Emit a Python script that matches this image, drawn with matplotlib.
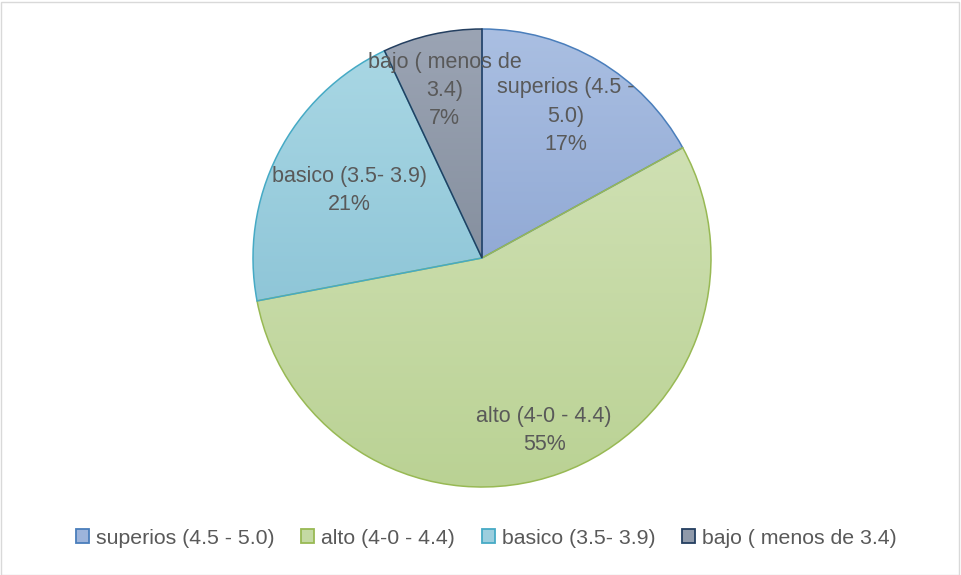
import matplotlib
matplotlib.use("Agg")
import matplotlib.pyplot as plt
from matplotlib.patches import Rectangle
from matplotlib.colors import to_rgb
import numpy as np

plt.rcParams['font.family'] = ['Liberation Sans', 'DejaVu Sans']

# data
categories = ["superios (4.5 - 5.0)", "alto (4-0 - 4.4)", "basico (3.5- 3.9)", "bajo ( menos de 3.4)"]
label_lines = ["superios (4.5 -\n5.0)", "alto (4-0 - 4.4)", "basico (3.5- 3.9)", "bajo ( menos de\n3.4)"]
values = [17, 55, 21, 7]

# style
top_colors = ["#AABFE2", "#CFE0B3", "#A9D7E4", "#9BA4B4"]
bottom_colors = ["#92AAD5", "#BAD294", "#8FC6D8", "#86909F"]
mid_colors = ["#9DB4DB", "#C4D9A3", "#9CCEDE", "#909AAA"]
edge_colors = ["#4A7EBB", "#98B954", "#46AAC5", "#243F60"]
label_dist = [0.72, 0.80, 0.65, 0.75]
text_color = "#595959"

W, H = 961, 575
fig = plt.figure(figsize=(W / 100, H / 100), dpi=100)
fig.patches.append(Rectangle((0.5 / W, 0.5 / H), 1 - 2.5 / W, 1 - 2.5 / H,
                             transform=fig.transFigure, fill=False,
                             edgecolor="#D9D9D9", linewidth=1))

cx, cy, r = 482, 258, 229
m = 1.02
ax = fig.add_axes([(cx - r * m) / W, (H - cy - r * m) / H, 2 * r * m / W, 2 * r * m / H])

wedges, _ = ax.pie(values, startangle=90, counterclock=False,
                   wedgeprops=dict(linewidth=1.1, facecolor='none'))

for i, w in enumerate(wedges):
    w.set_edgecolor(edge_colors[i])
    w.set_zorder(3)
    # vertical gradient fill clipped to the wedge
    ext = w.get_path().get_extents(w.get_patch_transform())
    c1 = np.array(to_rgb(top_colors[i]))
    c2 = np.array(to_rgb(bottom_colors[i]))
    t = np.linspace(0, 1, 256)[:, None]
    grad = (c1 * (1 - t) + c2 * t)[:, None, :]
    im = ax.imshow(grad, extent=[ext.x0, ext.x1, ext.y0, ext.y1], origin='upper',
                   aspect='auto', zorder=1, interpolation='bilinear')
    im.set_clip_path(w)

    ang = np.deg2rad((w.theta1 + w.theta2) / 2)
    d = label_dist[i]
    ax.text(d * np.cos(ang), d * np.sin(ang), f"{label_lines[i]}\n{values[i]}%",
            ha='center', va='center', fontsize=15.5, color=text_color,
            linespacing=1.45, zorder=5)

ax.set_xlim(-m, m)
ax.set_ylim(-m, m)
ax.set_aspect('equal')
ax.axis('off')

handles = [Rectangle((0, 0), 1, 1, facecolor=mid_colors[i], edgecolor=edge_colors[i], linewidth=1.3)
           for i in range(len(categories))]
fig.legend(handles, categories, loc='center', bbox_to_anchor=(0.5 + 6 / W, 1 - 538 / H), ncol=4,
           frameon=False, fontsize=15.3, labelcolor=text_color,
           handlelength=0.6, handleheight=0.6, handletextpad=0.35, columnspacing=1.25)

fig.savefig("out.png", dpi=100)
